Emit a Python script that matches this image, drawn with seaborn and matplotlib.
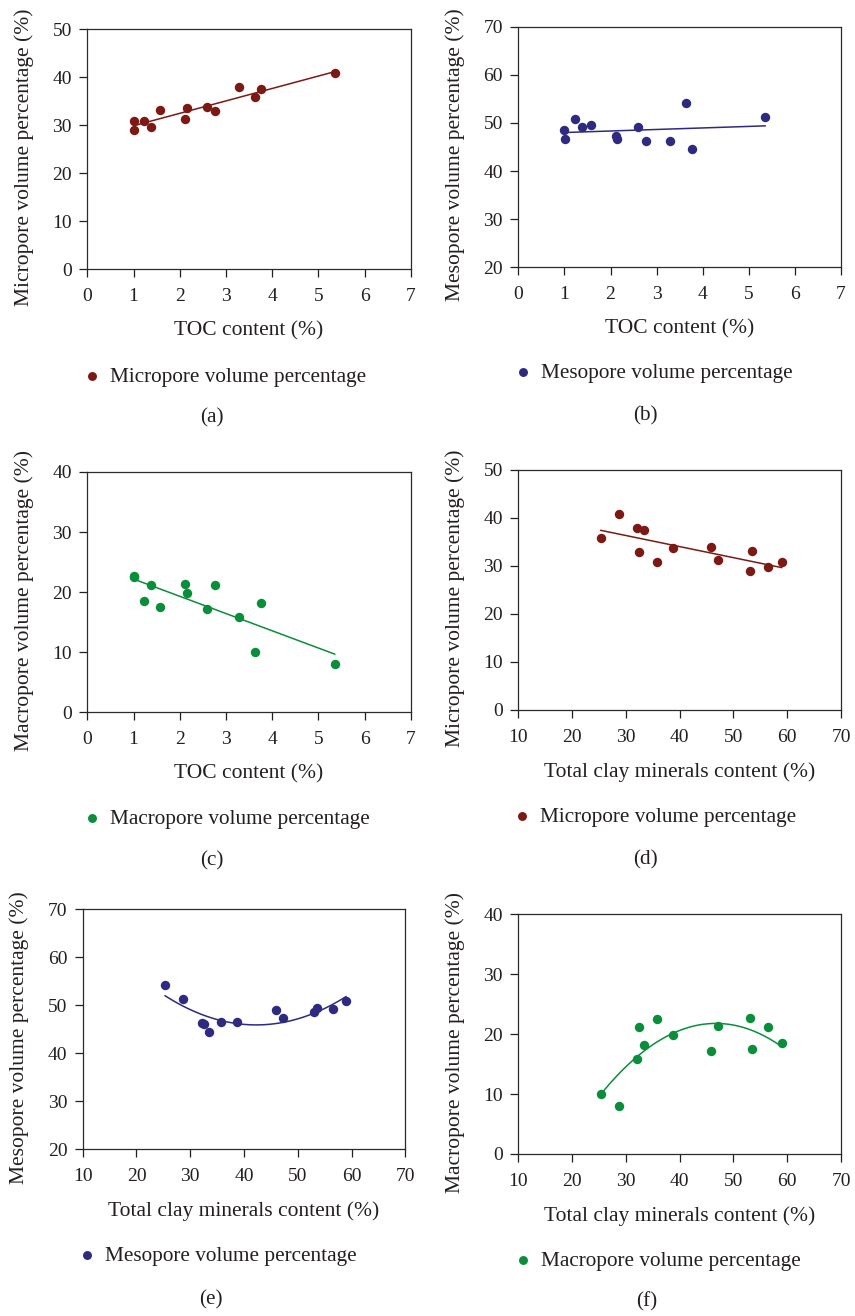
import numpy as np
import pandas as pd
import matplotlib
matplotlib.use("Agg")
import matplotlib.pyplot as plt
import seaborn as sns

# Sample measurements (one entry per shale sample)
toc = [1.00, 1.02, 1.23, 1.38, 1.58, 2.11, 2.15, 2.60, 2.77, 3.29, 3.63, 3.76, 5.36]
clay = [53.1, 35.7, 59.0, 56.5, 53.5, 47.2, 38.7, 45.9, 32.5, 32.1, 25.3, 33.4, 28.7]
micro = [29.0, 30.8, 30.8, 29.7, 33.1, 31.3, 33.7, 33.9, 32.9, 38.0, 35.9, 37.6, 40.9]
meso = [48.5, 46.6, 50.8, 49.2, 49.5, 47.3, 46.6, 49.1, 46.2, 46.3, 54.2, 44.5, 51.3]
macro = [22.7, 22.6, 18.5, 21.2, 17.5, 21.3, 19.9, 17.2, 21.2, 15.9, 10.0, 18.2, 8.0]

df = pd.DataFrame({"toc": toc, "clay": clay, "micro": micro, "meso": meso, "macro": macro})

sns.set_theme(style="ticks")
plt.rcParams["font.family"] = ["Liberation Serif", "DejaVu Serif"]
TEXT = "#231f20"
plt.rcParams.update({
    "text.color": TEXT, "axes.labelcolor": TEXT,
    "xtick.color": TEXT, "ytick.color": TEXT,
    "axes.edgecolor": "#2b2b2b", "axes.linewidth": 0.9,
    "xtick.major.size": 6, "ytick.major.size": 6,
    "xtick.major.width": 0.9, "ytick.major.width": 0.9,
    "xtick.direction": "out", "ytick.direction": "out",
})

C_MICRO = "#7b1a14"
C_MESO = "#2e2a80"
C_MACRO = "#0a8e3c"

W, H = 855, 1316
fig = plt.figure(figsize=(W / 100, H / 100), dpi=100)


def add_axes(L, R, T, B):
    return fig.add_axes([L / W, 1 - B / H, (R - L) / W, (B - T) / H])


panels = [
    # (box, x, y, colour, order, xlim, ylim, xlabel, ylabel, legend label, legend pos, caption, caption pos)
    ((87.3, 410.7, 29.3, 269.3), "toc", "micro", C_MICRO, 1, (0, 7), (0, 50),
     "TOC content (%)", "Micropore volume percentage (%)", "Micropore volume percentage",
     (92, 377), "(a)", (212, 418)),
    ((518.3, 841, 26.7, 267.3), "toc", "meso", C_MESO, 1, (0, 7), (20, 70),
     "TOC content (%)", "Mesopore volume percentage (%)", "Mesopore volume percentage",
     (523, 373), "(b)", (645, 416)),
    ((87.3, 410.7, 472, 712.3), "toc", "macro", C_MACRO, 1, (0, 7), (0, 40),
     "TOC content (%)", "Macropore volume percentage (%)", "Macropore volume percentage",
     (92, 819), "(c)", (212, 861)),
    ((518.3, 841, 470, 710), "clay", "micro", C_MICRO, 1, (10, 70), (0, 50),
     "Total clay minerals content (%)", "Micropore volume percentage (%)", "Micropore volume percentage",
     (522, 817), "(d)", (645, 860)),
    ((82.7, 405.3, 909.3, 1149.3), "clay", "meso", C_MESO, 2, (10, 70), (20, 70),
     "Total clay minerals content (%)", "Mesopore volume percentage (%)", "Mesopore volume percentage",
     (87, 1256), "(e)", (211, 1300)),
    ((518.3, 841, 914.3, 1154), "clay", "macro", C_MACRO, 2, (10, 70), (0, 40),
     "Total clay minerals content (%)", "Macropore volume percentage (%)", "Macropore volume percentage",
     (523, 1261), "(f)", (647, 1302)),
]

for (box, xc, yc, col, order, xlim, ylim, xlab, ylab, leglab, legpos, cap, cappos) in panels:
    ax = add_axes(*box)
    sns.regplot(data=df, x=xc, y=yc, ax=ax, order=order, ci=None, truncate=True,
                color=col, label=leglab,
                scatter_kws=dict(s=46, linewidths=0, alpha=1),
                line_kws=dict(lw=1.1))
    ax.set_xlim(*xlim)
    ax.set_ylim(*ylim)
    ax.set_xticks(np.arange(xlim[0], xlim[1] + 0.1, 1 if xlim[1] == 7 else 10))
    ax.set_yticks(np.arange(ylim[0], ylim[1] + 0.1, 10))
    ax.tick_params(axis="x", labelsize=14, pad=7.5)
    ax.tick_params(axis="y", labelsize=14, pad=5)
    ax.set_xlabel(xlab, fontsize=15.5, labelpad=12)
    ax.set_ylabel(ylab, fontsize=15.5)
    ax.yaxis.set_label_coords(-0.165, 0.467)
    for s in ax.spines.values():
        s.set_visible(True)
    handle = ax.collections[0]
    ax.legend([handle], [leglab], loc="center left",
              bbox_to_anchor=((legpos[0] - 8.3) / W, 1 - legpos[1] / H),
              bbox_transform=fig.transFigure, frameon=False, borderpad=0,
              borderaxespad=0, handlelength=0.8, handletextpad=0.45,
              markerscale=0.95, scatterpoints=1, fontsize=15.3)
    fig.text(cappos[0] / W, 1 - cappos[1] / H, cap, ha="center", va="center", fontsize=15.3)

fig.savefig("out.png", dpi=100)
